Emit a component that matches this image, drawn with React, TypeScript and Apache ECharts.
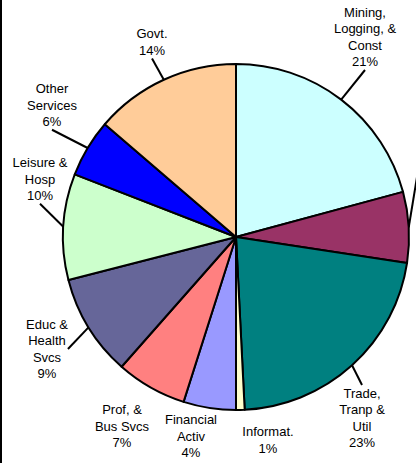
import React, { useEffect, useRef } from "react";
import * as echarts from "echarts";

// Sectors (clockwise from 12 o'clock)
const categories = [
  "Mining,\nLogging, &\nConst",
  "Manufacturing",
  "Trade,\nTranp &\nUtil",
  "Informat.",
  "Financial\nActiv",
  "Prof, &\nBus Svcs",
  "Educ &\nHealth\nSvcs",
  "Leisure &\nHosp",
  "Other\nServices",
  "Govt.",
];
// slice shares as drawn (percent of the pie)
const shares = [20.8, 6.6, 21.8, 0.8, 4.9, 6.6, 9.5, 9.9, 5.4, 13.7];
// percentages printed in the labels
const labelPct = [21, 7, 23, 1, 4, 7, 9, 10, 6, 14];

const colors = [
  "#CCFFFF",
  "#993366",
  "#008080",
  "#FFFFCC",
  "#9999FF",
  "#FF8080",
  "#666699",
  "#CCFFCC",
  "#0000FF",
  "#FFCC99",
];
// label block centres (layout)
const labelCenters: [number, number][] = [
  [365, 37],
  [419, 165],
  [362, 418],
  [268, 440],
  [191, 436],
  [122, 426],
  [47, 349],
  [40, 179],
  [52, 105],
  [152, 42],
];
const labelAlign = ["center", "left", "center", "center", "center", "center", "center", "center", "center", "center"];
const showLeader = [true, true, true, false, false, false, true, true, true, true];

export default function App() {
  const ref = useRef<HTMLDivElement>(null);
  useEffect(() => {
    if (!ref.current) return;
    const chart = echarts.init(ref.current, undefined, { renderer: "svg" });
    chart.setOption({
      animation: false,
      backgroundColor: "#ffffff",
      graphic: [
        { type: "rect", left: 0, top: 0, shape: { x: 0, y: 0, width: 2, height: 463 }, style: { fill: "#000" } },
      ],
      series: [
        {
          type: "pie",
          center: [236, 237],
          radius: 173,
          startAngle: 90,
          clockwise: true,
          avoidLabelOverlap: false,
          itemStyle: { borderColor: "#000", borderWidth: 2 },
          label: {
            show: true,
            position: "outside",
            fontFamily: "Liberation Sans, Arial, sans-serif",
            fontSize: 13,
            lineHeight: 16.5,
            color: "#000",
            align: "center",
            formatter: (p: any) => `${categories[p.dataIndex]}\n${labelPct[p.dataIndex]}%`,
          },
          labelLine: {
            show: true,
            length: 5,
            length2: 0,
            smooth: false,
            lineStyle: { color: "#000", width: 2 },
          },
          labelLayout: (p: any) => {
            const c = labelCenters[p.dataIndex];
            return { x: c[0], y: c[1], align: labelAlign[p.dataIndex], verticalAlign: "middle" };
          },
          data: shares.map((v, i) => ({
            value: v,
            name: categories[i],
            itemStyle: { color: colors[i] },
            label: { align: labelAlign[i] },
            labelLine: { show: showLeader[i] },
          })),
        },
      ],
    });
    return () => chart.dispose();
  }, []);
  return (
    <div
      ref={ref}
      style={{ position: "fixed", left: 0, top: 0, width: 416, height: 463 }}
    />
  );
}
